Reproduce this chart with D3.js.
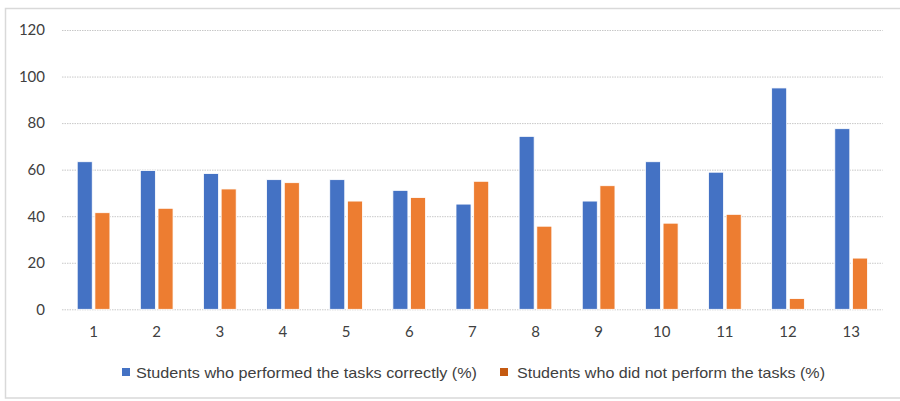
<!DOCTYPE html>
<html>
<head>
<meta charset="utf-8">
<script src="https://cdn.jsdelivr.net/npm/d3@7"></script>
<style>
  html, body { margin: 0; padding: 0; background: #fff; }
  svg { display: block; }
</style>
</head>
<body>
<svg id="chart" width="900" height="401"></svg>
<script>
// Task numbers along the x axis
const categories = ["1", "2", "3", "4", "5", "6", "7", "8", "9", "10", "11", "12", "13"];
// Share of students who solved each task correctly (%)
const correct = [63.4, 59.6, 58.3, 55.7, 55.7, 51.1, 45.2, 74.3, 46.5, 63.4, 58.9, 95.1, 77.6];
// Share of students who did not solve each task (%)
const notPerformed = [41.5, 43.4, 51.7, 54.4, 46.5, 48.0, 55.0, 35.7, 53.1, 37.0, 40.8, 4.6, 22.0];
// Value axis ticks
const yTicks = [0, 20, 40, 60, 80, 100, 120];
const seriesNames = [
  "Students who performed the tasks correctly (%)",
  "Students who did not perform the tasks (%)"
];

const barColors = ["#4472C4", "#ED7D31"];
const legendColors = ["#4472C4", "#C55A11"];

const svg = d3.select("#chart");

// Chart frame
svg.append("rect")
  .attr("x", 5.5).attr("y", 8.5)
  .attr("width", 920).attr("height", 389.5)
  .attr("fill", "#fff")
  .attr("stroke", "#d9d9d9")
  .attr("stroke-width", 1.5);

const plot = { left: 62, right: 882.7, top: 30, bottom: 309.3 };

const y = d3.scaleLinear().domain([0, 120]).range([plot.bottom, plot.top]);

const x0 = d3.scaleBand()
  .domain(categories)
  .range([plot.left, plot.right])
  .paddingInner(0.482)
  .paddingOuter(0.241);

const x1 = d3.scaleBand()
  .domain([0, 1])
  .range([0, x0.bandwidth()])
  .paddingInner(0.15);

// Horizontal gridlines (including the baseline)
svg.append("g")
  .selectAll("line")
  .data(yTicks)
  .join("line")
  .attr("x1", plot.left).attr("x2", plot.right)
  .attr("y1", d => y(d) + 0.5).attr("y2", d => y(d) + 0.5)
  .attr("stroke", "#c8c8c8")
  .attr("stroke-width", 1)
  .attr("stroke-dasharray", "1.5,1");

const tickFont = "Lato, 'Open Sans', sans-serif";

// Y axis labels
const yAxis = d3.axisLeft(y).tickValues(yTicks).tickSize(0).tickPadding(0);
const gy = svg.append("g")
  .attr("transform", `translate(${45},0)`)
  .call(yAxis);
gy.select(".domain").remove();
gy.selectAll("text")
  .attr("font-family", tickFont)
  .attr("font-size", 15)
  .attr("fill", "#404040");

// X axis labels
const xAxis = d3.axisBottom(x0).tickSize(0).tickPadding(0);
const gx = svg.append("g")
  .attr("transform", `translate(0,${plot.bottom + 17})`)
  .call(xAxis);
gx.select(".domain").remove();
gx.selectAll("text")
  .attr("font-family", tickFont)
  .attr("font-size", 15)
  .attr("fill", "#404040");

// Bars
const rows = categories.map((c, i) => ({ cat: c, values: [correct[i], notPerformed[i]] }));
svg.append("g")
  .selectAll("g")
  .data(rows)
  .join("g")
  .attr("transform", d => `translate(${x0(d.cat)},0)`)
  .selectAll("rect")
  .data(d => d.values.map((v, k) => ({ k, v })))
  .join("rect")
  .attr("x", d => x1(d.k))
  .attr("width", x1.bandwidth())
  .attr("y", d => y(d.v))
  .attr("height", d => y(0) - y(d.v))
  .attr("fill", d => barColors[d.k])
  .attr("stroke", "#fff")
  .attr("stroke-width", 0.8);

// Legend
const legendItems = [
  { sx: 122, tx: 136, len: 341 },
  { sx: 500, tx: 517, len: 308 }
];
const legend = svg.append("g");
legendItems.forEach((it, i) => {
  legend.append("rect")
    .attr("x", it.sx).attr("y", 368)
    .attr("width", 8).attr("height", 8)
    .attr("fill", legendColors[i]);
  legend.append("text")
    .attr("x", it.tx).attr("y", 377.5)
    .attr("font-family", "'Liberation Sans Narrow', 'Liberation Sans', Arial, sans-serif")
    .attr("font-size", 15)
    .attr("fill", "#404040")
    .attr("textLength", it.len)
    .attr("lengthAdjust", "spacingAndGlyphs")
    .text(seriesNames[i]);
});
</script>
</body>
</html>
